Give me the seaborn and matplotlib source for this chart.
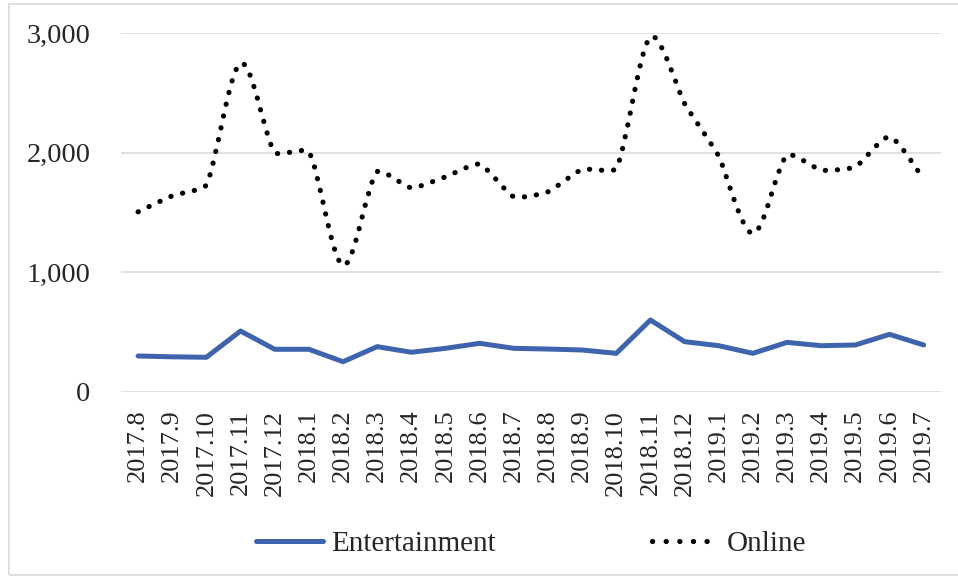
import numpy as np
import pandas as pd
import matplotlib.pyplot as plt
from matplotlib.path import Path
from matplotlib.patches import PathPatch, Rectangle
from matplotlib.lines import Line2D
from matplotlib.ticker import FuncFormatter
import seaborn as sns

months = ['2017.8', '2017.9', '2017.10', '2017.11', '2017.12',
          '2018.1', '2018.2', '2018.3', '2018.4', '2018.5', '2018.6',
          '2018.7', '2018.8', '2018.9', '2018.10', '2018.11', '2018.12',
          '2019.1', '2019.2', '2019.3', '2019.4', '2019.5', '2019.6', '2019.7']
entertainment = [299, 292, 288, 508, 355, 355, 251, 377, 330, 363, 405, 363,
                 357, 349, 321, 600, 419, 385, 321, 413, 385, 391, 480, 391]
online = [1506, 1640, 1732, 2750, 2003, 2010, 1058, 1841, 1707, 1799, 1905, 1632,
          1674, 1861, 1869, 2970, 2413, 1972, 1325, 1981, 1855, 1883, 2134, 1780]

blue = '#3E64AD'
sns.set_style('white')
plt.rcParams['font.family'] = ['Liberation Serif', 'DejaVu Serif']

fig = plt.figure(figsize=(9.58, 5.76), dpi=100)
ax = fig.add_axes([0.1263, 0.320, 0.8557, 0.622])

df = pd.DataFrame({'month': months, 'value': entertainment})
sns.lineplot(data=df, x='month', y='value', ax=ax, color=blue, linewidth=3.6,
             solid_capstyle='round', solid_joinstyle='round', sort=False)

ax.set_xlim(-0.5, len(months) - 0.5)
ax.set_ylim(0, 3000)


def excel_smooth(ax, xs, ys):
    # bezier through the points like Excel's "smoothed line", computed in pixels
    pts = ax.transData.transform(np.column_stack([xs, ys]))
    n = len(pts)
    verts = [tuple(pts[0])]
    codes = [Path.MOVETO]
    for i in range(n - 1):
        p0 = pts[max(i - 1, 0)]
        p1 = pts[i]
        p2 = pts[i + 1]
        p3 = pts[min(i + 2, n - 1)]
        d02 = np.hypot(*(p2 - p0))
        d12 = np.hypot(*(p2 - p1))
        d13 = np.hypot(*(p3 - p1))
        f1 = min(1.0, d12 / d02) / 6 if d02 > 0 else 1 / 6
        f2 = min(1.0, d12 / d13) / 6 if d13 > 0 else 1 / 6
        c1 = p1 + (p2 - p0) * f1
        c2 = p2 - (p3 - p1) * f2
        verts += [tuple(c1), tuple(c2), tuple(p2)]
        codes += [Path.CURVE4] * 3
    data_verts = ax.transData.inverted().transform(np.array(verts))
    return Path(data_verts, codes)


x = np.arange(len(online), dtype=float)
patch = PathPatch(excel_smooth(ax, x, np.array(online, dtype=float)),
                  facecolor='none', edgecolor='black', linewidth=3.7,
                  linestyle=(0, (0.05, 2.3)), capstyle='round')
ax.add_patch(patch)

ax.set_yticks([0, 1000, 2000, 3000])
ax.yaxis.set_major_formatter(FuncFormatter(lambda v, p: f'{int(v):,}'))
ax.grid(axis='y', color='#D9D9D9', linewidth=1.1)
ax.set_axisbelow(True)
for s in ax.spines.values():
    s.set_visible(False)
ax.set_xlabel('')
ax.set_ylabel('')
ax.tick_params(axis='y', length=0, pad=22, labelsize=20.5)
ax.tick_params(axis='x', length=0, pad=13, labelsize=19, labelrotation=90)

handles = [Line2D([], [], color=blue, linewidth=3.6, solid_capstyle='round'),
           Line2D([], [], color='black', linewidth=3.7, linestyle=(0, (0.05, 2.6)),
                  dash_capstyle='round')]
fig.legend(handles, ['Entertainment', 'Online'], loc='center',
           bbox_to_anchor=(531 / 958, 1 - 544 / 576), ncol=2, frameon=False,
           fontsize=21, handlelength=2.3, handletextpad=0.28, columnspacing=5.35)

fig.add_artist(Rectangle((9 / 958, 1 / 576), 1.2, 1 - 5 / 576, transform=fig.transFigure,
                         facecolor='none', edgecolor='#D9D9D9', linewidth=1.2))

fig.savefig('out.png', dpi=100)
